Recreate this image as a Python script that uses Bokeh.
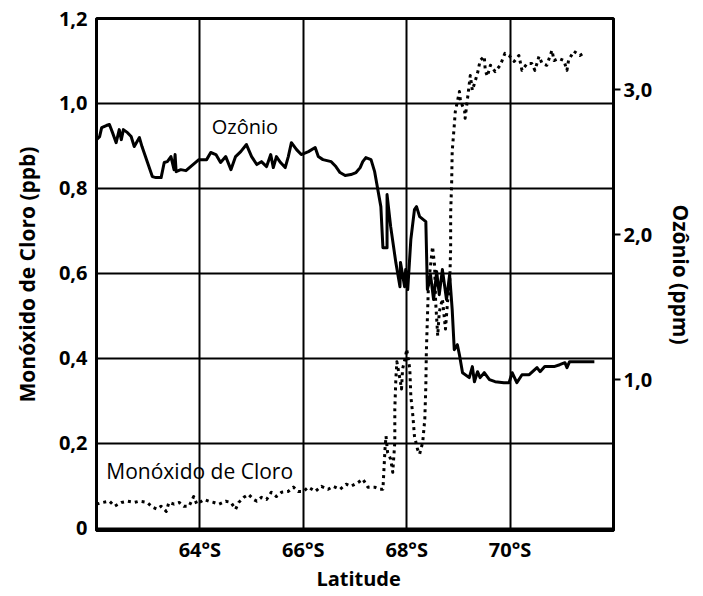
from bokeh.plotting import figure
from bokeh.models import Range1d, LinearAxis, FixedTicker, Label
from bokeh.embed import file_html
from bokeh.resources import INLINE

# ---------------- data ----------------
# Ozone (ppm, right axis) versus latitude (deg S)
ozone_lat = [62.00, 62.06, 62.10, 62.19, 62.25, 62.31, 62.38, 62.44, 62.48, 62.52,
             62.60, 62.67, 62.73, 62.83, 62.88, 63.08, 63.15, 63.25, 63.31, 63.37,
             63.44, 63.50, 63.52, 63.54, 63.63, 63.73, 63.98, 64.13, 64.21, 64.31,
             64.40, 64.50, 64.60, 64.69, 64.79, 64.90, 65.00, 65.10, 65.19, 65.29,
             65.37, 65.42, 65.48, 65.56, 65.65, 65.71, 65.77, 65.87, 65.96, 66.10,
             66.23, 66.29, 66.38, 66.54, 66.63, 66.71, 66.81, 66.92, 67.02, 67.10,
             67.15, 67.21, 67.31, 67.38, 67.50, 67.54, 67.62, 67.62, 67.69, 67.79,
             67.87, 67.88, 67.96, 67.98, 68.02, 68.08, 68.15, 68.19, 68.25, 68.37,
             68.40, 68.46, 68.52, 68.58, 68.63, 68.69, 68.77, 68.83, 68.88, 68.92,
             68.98, 69.02, 69.08, 69.21, 69.27, 69.31, 69.37, 69.42, 69.50, 69.60,
             69.71, 69.88, 69.98, 70.04, 70.13, 70.23, 70.37, 70.52, 70.58, 70.67,
             70.85, 70.96, 71.06, 71.10, 71.15, 71.63]
ozone_ppm = [2.655, 2.676, 2.738, 2.752, 2.759, 2.703, 2.634, 2.724, 2.655, 2.724,
             2.703, 2.676, 2.607, 2.669, 2.607, 2.400, 2.393, 2.393, 2.497, 2.503,
             2.538, 2.448, 2.552, 2.434, 2.448, 2.441, 2.517, 2.517, 2.566, 2.552,
             2.497, 2.538, 2.448, 2.538, 2.572, 2.621, 2.538, 2.483, 2.503, 2.469,
             2.552, 2.462, 2.538, 2.497, 2.462, 2.538, 2.634, 2.586, 2.552, 2.572,
             2.600, 2.538, 2.517, 2.503, 2.469, 2.428, 2.407, 2.414, 2.428, 2.462,
             2.503, 2.531, 2.517, 2.434, 2.193, 1.910, 1.910, 2.276, 2.055, 1.807,
             1.641, 1.807, 1.641, 1.759, 1.621, 1.966, 2.172, 2.193, 2.124, 2.090,
             1.621, 1.724, 1.552, 1.745, 1.586, 1.759, 1.552, 1.724, 1.483, 1.207,
             1.241, 1.172, 1.048, 1.014, 1.090, 0.986, 1.055, 1.014, 1.048, 1.000,
             0.986, 0.979, 0.979, 1.048, 0.979, 1.034, 1.034, 1.083, 1.055, 1.090,
             1.090, 1.103, 1.117, 1.083, 1.124, 1.124]

# Chlorine monoxide (ppb, left axis) versus latitude (deg S)
clo_lat = [62.00, 62.12, 62.25, 62.35, 62.48, 62.60, 62.73, 62.83, 62.98, 63.08,
           63.17, 63.25, 63.35, 63.40, 63.50, 63.60, 63.69, 63.79, 63.88, 63.94,
           64.08, 64.17, 64.27, 64.37, 64.50, 64.60, 64.69, 64.75, 64.85, 64.94,
           65.04, 65.10, 65.19, 65.29, 65.38, 65.48, 65.58, 65.71, 65.81, 65.90,
           66.00, 66.10, 66.23, 66.35, 66.48, 66.58, 66.71, 66.83, 66.92, 67.06,
           67.15, 67.25, 67.38, 67.48, 67.54, 67.56, 67.58, 67.60, 67.63, 67.69,
           67.73, 67.77, 67.77, 67.79, 67.81, 67.87, 67.90, 67.92, 67.98, 68.00,
           68.06, 68.08, 68.12, 68.15, 68.21, 68.25, 68.31, 68.35, 68.37, 68.38,
           68.40, 68.42, 68.50, 68.54, 68.56, 68.60, 68.63, 68.69, 68.75, 68.79,
           68.83, 68.85, 68.85, 68.87, 68.88, 68.92, 68.94, 69.02, 69.04, 69.12,
           69.13, 69.17, 69.23, 69.27, 69.37, 69.42, 69.50, 69.52, 69.56, 69.62,
           69.71, 69.81, 69.90, 69.98, 70.08, 70.17, 70.23, 70.33, 70.42, 70.48,
           70.56, 70.62, 70.71, 70.81, 70.85, 70.94, 71.04, 71.10, 71.13, 71.23,
           71.35, 71.42]
clo_ppb = [0.057, 0.061, 0.064, 0.052, 0.061, 0.064, 0.061, 0.064, 0.061, 0.050,
           0.045, 0.052, 0.040, 0.061, 0.057, 0.061, 0.052, 0.052, 0.075, 0.057,
           0.068, 0.064, 0.061, 0.057, 0.064, 0.061, 0.045, 0.061, 0.073, 0.080,
           0.068, 0.064, 0.073, 0.068, 0.085, 0.075, 0.085, 0.087, 0.097, 0.087,
           0.087, 0.097, 0.087, 0.099, 0.092, 0.099, 0.092, 0.104, 0.099, 0.108,
           0.116, 0.097, 0.097, 0.092, 0.092, 0.139, 0.186, 0.217, 0.179, 0.163,
           0.132, 0.203, 0.281, 0.351, 0.392, 0.351, 0.328, 0.375, 0.406, 0.422,
           0.375, 0.311, 0.264, 0.217, 0.186, 0.175, 0.203, 0.257, 0.335, 0.415,
           0.493, 0.571, 0.663, 0.618, 0.533, 0.453, 0.509, 0.540, 0.469, 0.533,
           0.571, 0.658, 0.741, 0.816, 0.887, 0.948, 0.981, 1.028, 1.005, 0.983,
           0.965, 1.005, 1.066, 1.031, 1.071, 1.101, 1.111, 1.078, 1.064, 1.090,
           1.075, 1.090, 1.118, 1.113, 1.099, 1.113, 1.078, 1.094, 1.094, 1.078,
           1.111, 1.094, 1.090, 1.125, 1.101, 1.106, 1.101, 1.078, 1.101, 1.123,
           1.113, 1.118]

lat_ticks = [64, 66, 68, 70]
lat_tick_labels = ["64°S", "66°S", "68°S", "70°S"]
clo_ticks = [0, 0.2, 0.4, 0.6, 0.8, 1.0, 1.2]
clo_tick_labels = ["0", "0,2", "0,4", "0,6", "0,8", "1,0", "1,2"]
ozone_ticks = [1.0, 2.0, 3.0]
ozone_tick_labels = ["1,0", "2,0", "3,0"]
x_title = "Latitude"

FONT = "Open Sans"

p = figure(width=700, height=594, output_backend="svg", toolbar_location=None,
           x_range=Range1d(62, 72), y_range=Range1d(-0.005, 1.2),
           min_border_left=96, min_border_right=87, min_border_top=18,
           min_border_bottom=64)
p.extra_y_ranges = {"ozone": Range1d(-0.04, 3.49)}

p.background_fill_color = "white"
p.border_fill_color = "white"
p.outline_line_color = "black"
p.outline_line_width = 3

# bottom axis: the axis title is carried as a second line under a
# label-only position between 66°S and 68°S (no grid line there)
x_title_pos = 67.07
xa = p.xaxis[0]
xa.ticker = FixedTicker(ticks=lat_ticks + [x_title_pos])
overrides = dict(zip(lat_ticks, lat_tick_labels))
overrides[x_title_pos] = "\n" + x_title
xa.major_label_overrides = overrides

# left axis
ya = p.yaxis[0]
ya.ticker = FixedTicker(ticks=clo_ticks)
ya.major_label_overrides = dict(zip(clo_ticks, clo_tick_labels))
ya.axis_label = "Monóxido de Cloro (ppb)"

# right axis
ra = LinearAxis(y_range_name="ozone", ticker=FixedTicker(ticks=ozone_ticks),
                axis_label="Ozônio (ppm)")
ra.major_label_overrides = dict(zip(ozone_ticks, ozone_tick_labels))
p.add_layout(ra, "right")

for ax in (xa, ya, ra):
    ax.axis_line_color = "black"
    ax.axis_line_width = 3
    ax.minor_tick_line_color = None
    ax.minor_tick_in = 0
    ax.minor_tick_out = 0
    ax.major_label_text_font = FONT
    ax.major_label_text_font_style = "bold"
    ax.major_label_text_font_size = "20px"
    ax.major_label_text_color = "black"
    ax.axis_label_text_font = FONT
    ax.axis_label_text_font_style = "bold"
    ax.axis_label_text_font_size = "21px"
    ax.axis_label_text_color = "black"

xa.major_tick_line_color = None
xa.major_tick_in = 0
xa.major_tick_out = 0
xa.major_label_standoff = 5
xa.major_label_text_line_height = 1.08
ya.major_tick_line_color = None
ya.major_tick_in = 0
ya.major_tick_out = 0
ya.major_label_standoff = 9
ya.axis_label_standoff = 15
ra.major_tick_line_color = "black"
ra.major_tick_line_width = 2
ra.major_tick_in = 0
ra.major_tick_out = 7
ra.major_label_standoff = 3
ra.axis_label_standoff = 12

p.xgrid.ticker = FixedTicker(ticks=lat_ticks)
p.ygrid.ticker = FixedTicker(ticks=clo_ticks)
for g in (p.xgrid[0], p.ygrid[0]):
    g.grid_line_color = "black"
    g.grid_line_width = 2
    g.grid_line_alpha = 1.0

# series
p.line(clo_lat, clo_ppb, line_color="black", line_width=3, line_dash="3 4",
       line_cap="butt", line_join="round")
p.line(ozone_lat, ozone_ppm, y_range_name="ozone", line_color="black",
       line_width=3, line_join="round")

# in-plot labels
p.add_layout(Label(x=64.23, y=0.946, text="Ozônio", text_font=FONT,
                   text_font_size="20px", text_baseline="middle",
                   text_color="black"))
p.add_layout(Label(x=62.19, y=0.134, text="Monóxido de Cloro", text_font=FONT,
                   text_font_size="21px", text_baseline="middle",
                   text_color="black"))

open("out.html", "w").write(file_html(p, INLINE))
